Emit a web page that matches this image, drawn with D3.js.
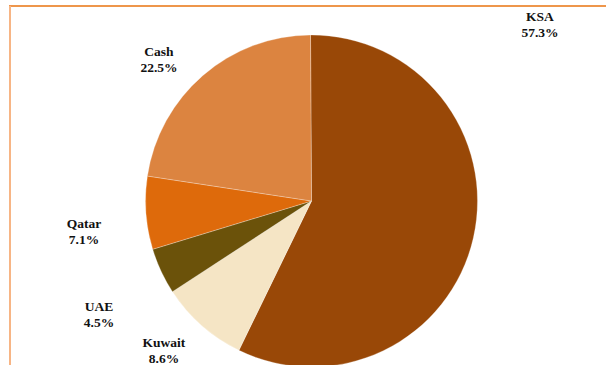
<!DOCTYPE html>
<html>
<head>
<meta charset="utf-8">
<script src="https://cdn.jsdelivr.net/npm/d3@7"></script>
<style>
  html, body { margin: 0; padding: 0; background: #fff; }
  svg { display: block; }
</style>
</head>
<body>
<svg id="chart" width="606" height="365"></svg>
<script>
// Portfolio split by market (% of total)
const categories = ["KSA", "Kuwait", "UAE", "Qatar", "Cash"];
const shares = [57.3, 8.6, 4.5, 7.1, 22.5];
const sliceColors = ["#994807", "#F5E5C5", "#6B520A", "#DE6A0B", "#DC8440"];

const W = 606, H = 365;
const cx = 311.5, cy = 201, radius = 166;

const svg = d3.select("#chart");

// frame: dark orange top rule, light orange left rule
svg.append("line")
  .attr("x1", 9).attr("x2", W).attr("y1", 6).attr("y2", 6)
  .attr("stroke", "#E8730F").attr("stroke-width", 1.5);
svg.append("line")
  .attr("x1", 10).attr("x2", 10).attr("y1", 6).attr("y2", H)
  .attr("stroke", "#F7B585").attr("stroke-width", 2);

const pie = d3.pie().sort(null).value(d => d.v).startAngle(-0.006).endAngle(2 * Math.PI - 0.006);
const arc = d3.arc().innerRadius(0).outerRadius(radius);

const data = categories.map((c, i) => ({ name: c, v: shares[i], color: sliceColors[i] }));

const g = svg.append("g").attr("transform", `translate(${cx},${cy})`);
g.selectAll("path")
  .data(pie(data))
  .join("path")
  .attr("d", arc)
  .attr("fill", d => d.data.color)
  .attr("stroke", "#fff")
  .attr("stroke-opacity", 0.45)
  .attr("stroke-width", 0.6);

// data label anchors (centre x, first baseline y), in category order
const labelAnchors = [
  [540, 21],   // KSA
  [164, 347],  // Kuwait
  [99, 311],   // UAE
  [84, 228],   // Qatar
  [159, 56]    // Cash
];

const labels = svg.append("g")
  .attr("font-family", "'Liberation Serif', 'DejaVu Serif', serif")
  .attr("font-weight", "bold")
  .attr("font-size", 13.5)
  .attr("fill", "#111");
data.forEach((d, i) => {
  const t = labels.append("text")
    .attr("text-anchor", "middle")
    .attr("x", labelAnchors[i][0])
    .attr("y", labelAnchors[i][1]);
  t.append("tspan").attr("x", labelAnchors[i][0]).text(d.name);
  t.append("tspan").attr("x", labelAnchors[i][0]).attr("dy", 16).text(d3.format(".1f")(d.v) + "%");
});
</script>
</body>
</html>
